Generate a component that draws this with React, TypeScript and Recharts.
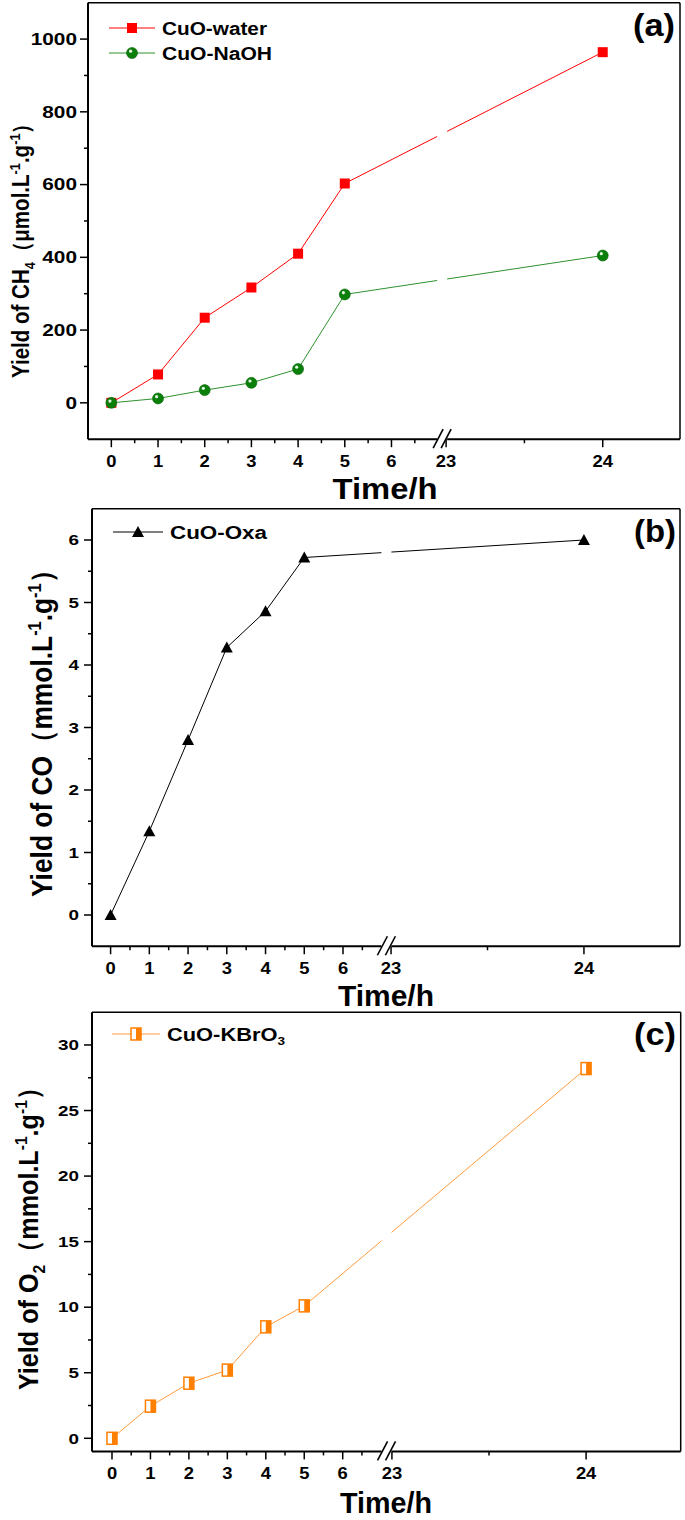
import React from 'react';
import { LineChart, Line, XAxis, YAxis, ReferenceLine } from 'recharts';

// ---------- data ----------
const hours = [0, 1, 2, 3, 4, 5, 24];
const cuoWater = [0, 78, 234, 317, 410, 603, 964];
const cuoNaOH = [0, 12, 35, 55, 93, 298, 405];
const cuoOxa = [0, 1.34, 2.8, 4.28, 4.86, 5.72, 6.0];
const cuoKBrO3 = [0, 2.45, 4.2, 5.2, 8.5, 10.1, 28.2];

const xMajorHours = [0, 1, 2, 3, 4, 5, 6, 23, 24];
const xMinorHours = [0.5, 1.5, 2.5, 3.5, 4.5, 5.5, 6.5, 23.5];

const yMajorA = [0, 200, 400, 600, 800, 1000];
const yMinorA = [100, 300, 500, 700, 900];
const yMajorB = [0, 1, 2, 3, 4, 5, 6];
const yMinorB = [0.5, 1.5, 2.5, 3.5, 4.5, 5.5];
const yMajorC = [0, 5, 10, 15, 20, 25, 30];
const yMinorC = [2.5, 7.5, 12.5, 17.5, 22.5, 27.5];

const FONT = '"Liberation Sans", Arial, Helvetica, sans-serif';

type Panel = {
  top: number; height: number;
  plotTop: number; plotBottom: number; plotLeft: number; plotRight: number;
  xLo: number; xHi: number; p23: number; k: number;
  yLo: number; yHi: number; yMajor: number[]; yMinor: number[];
  yFont: number; yGap: number;
};

const panelA: Panel = {
  top: 0, height: 510, plotTop: 2.7, plotBottom: 439.2, plotLeft: 88, plotRight: 680,
  xLo: -0.5, xHi: 12.18, p23: 7.17, k: 3.355,
  yLo: -100, yHi: 1100, yMajor: yMajorA, yMinor: yMinorA, yFont: 16, yGap: 11,
};
const panelB: Panel = {
  top: 480, height: 530, plotTop: 508.75, plotBottom: 946.25, plotLeft: 92, plotRight: 680,
  xLo: -0.48, xHi: 14.7, p23: 7.24, k: 4.98,
  yLo: -0.5, yHi: 6.5, yMajor: yMajorB, yMinor: yMinorB, yFont: 14.5, yGap: 13,
};
const panelC: Panel = {
  top: 1000, height: 520, plotTop: 1012.2, plotBottom: 1451.4, plotLeft: 92, plotRight: 680.7,
  xLo: -0.52, xHi: 14.79, p23: 7.28, k: 5.05,
  yLo: -1, yHi: 32.5, yMajor: yMajorC, yMinor: yMinorC, yFont: 14.5, yGap: 13,
};

const toPos = (t: number, p: Panel) => (t <= 7 ? t : p.p23 + (t - 23) * p.k);
const breakPos = (p: Panel) => (7 + p.p23) / 2;

// ---------- markers ----------
const SquareMark = ({ cx, cy }: any) => (
  <rect x={cx - 5} y={cy - 5} width={10} height={10} fill="#ff0000" />
);
const BallMark = ({ cx, cy }: any) => (
  <g>
    <circle cx={cx} cy={cy} r={5.5} fill="#0a7f0a" stroke="#086608" strokeWidth={0.6} />
    <circle cx={cx - 1.4} cy={cy - 1.8} r={1.6} fill="#e4f5e4" />
  </g>
);
const TriMark = ({ cx, cy }: any) => (
  <path d={`M${cx},${cy - 6} L${cx + 6},${cy + 5} L${cx - 6},${cy + 5} Z`} fill="#000" />
);
const HalfSquareMark = ({ cx, cy }: any) => (
  <g>
    <rect x={cx - 5} y={cy - 6} width={10} height={12} fill="#fff" stroke="#ff7f00" strokeWidth={1.5} />
    <rect x={cx} y={cy - 6} width={5} height={12} fill="#ff7f00" />
  </g>
);

const dotOf = (Mark: any) => (props: any) => {
  if (props.cx == null || props.cy == null) return <g key={`e${props.index}`} />;
  return <Mark key={`d${props.index}`} cx={props.cx} cy={props.cy} />;
};

// ---------- ticks ----------
const makeXTick = (p: Panel) => {
  const labels = new Map<string, string>();
  xMajorHours.forEach((h) => labels.set(toPos(h, p).toFixed(4), String(h)));
  const bp = breakPos(p).toFixed(4);
  const plotH = p.plotBottom - p.plotTop;
  return (props: any) => {
    const { x, y, payload } = props;
    const key = Number(payload.value).toFixed(4);
    if (key === bp) {
      return (
        <g key={`b${key}`}>
          <rect x={x - 5} y={y - plotH + 3} width={10} height={plotH - 1} fill="#fff" />
          <line x1={x - 9} y1={y + 9} x2={x + 1} y2={y - 10} stroke="#000" strokeWidth={1.6} />
          <line x1={x - 1} y1={y + 9} x2={x + 9} y2={y - 10} stroke="#000" strokeWidth={1.6} />
        </g>
      );
    }
    const label = labels.get(key);
    if (label == null) {
      return <line key={`m${key}`} x1={x} y1={y} x2={x} y2={y + 4} stroke="#000" strokeWidth={1.5} />;
    }
    return (
      <g key={`t${key}`}>
        <line x1={x} y1={y} x2={x} y2={y + 8} stroke="#000" strokeWidth={1.5} />
        <text
          transform={`translate(${x},${y + 28}) scale(1.15,1)`}
          textAnchor="middle"
          fontFamily={FONT}
          fontWeight="bold"
          fontSize={16}
          fill="#000"
        >
          {label}
        </text>
      </g>
    );
  };
};

const makeYTick = (p: Panel) => {
  const majors = new Set(p.yMajor.map((v) => v.toFixed(4)));
  return (props: any) => {
    const { x, y, payload } = props;
    const key = Number(payload.value).toFixed(4);
    if (!majors.has(key)) {
      return <line key={`m${key}`} x1={x - 4} y1={y} x2={x} y2={y} stroke="#000" strokeWidth={1.5} />;
    }
    return (
      <g key={`t${key}`}>
        <line x1={x - 8} y1={y} x2={x} y2={y} stroke="#000" strokeWidth={1.5} />
        <text
          transform={`translate(${x - p.yGap},${y + p.yFont * 0.36}) scale(1.3,1)`}
          textAnchor="end"
          fontFamily={FONT}
          fontWeight="bold"
          fontSize={p.yFont}
          fill="#000"
        >
          {payload.value}
        </text>
      </g>
    );
  };
};

// ---------- panel chart ----------
type SeriesDef = { key: string; values: number[]; color: string; mark: any };

const PanelChart = ({ p, series }: { p: Panel; series: SeriesDef[] }) => {
  const rows = hours.map((h, i) => {
    const r: any = { pos: toPos(h, p) };
    series.forEach((s) => (r[s.key] = s.values[i]));
    return r;
  });
  const xTicks = [
    ...xMajorHours.map((h) => toPos(h, p)),
    ...xMinorHours.map((h) => toPos(h, p)),
    breakPos(p),
  ].sort((a, b) => a - b);
  const yTicks = [...p.yMajor, ...p.yMinor].sort((a, b) => a - b);
  return (
    <div style={{ position: 'absolute', left: 0, top: p.top, width: 685, height: p.height }}>
      <LineChart
        width={685}
        height={p.height}
        data={rows}
        margin={{ top: p.plotTop - p.top, right: 685 - p.plotRight, bottom: 0, left: 0 }}
      >
        <YAxis
          type="number"
          domain={[p.yLo, p.yHi]}
          allowDataOverflow
          ticks={yTicks}
          interval={0}
          width={p.plotLeft}
          tickSize={0}
          tickMargin={0}
          tickLine={false}
          axisLine={{ stroke: '#000', strokeWidth: 2 }}
          tick={makeYTick(p)}
        />
        <ReferenceLine y={p.yHi} stroke="#000" strokeWidth={1.5} />
        <ReferenceLine x={p.xHi} stroke="#000" strokeWidth={1.5} />
        {series.map((s) => (
          <Line
            key={s.key}
            dataKey={s.key}
            type="linear"
            stroke={s.color}
            strokeWidth={1}
            dot={dotOf(s.mark)}
            activeDot={false}
            isAnimationActive={false}
          />
        ))}
        <XAxis
          dataKey="pos"
          type="number"
          domain={[p.xLo, p.xHi]}
          allowDataOverflow
          ticks={xTicks}
          interval={0}
          height={p.top + p.height - p.plotBottom}
          tickSize={0}
          tickMargin={0}
          tickLine={false}
          axisLine={{ stroke: '#000', strokeWidth: 2 }}
          tick={makeXTick(p)}
        />
      </LineChart>
    </div>
  );
};

// ---------- text helpers ----------
const B = { fontFamily: FONT, fontWeight: 'bold' as const, fill: '#000' };

// Segments: [text, kind] where kind is 'n' normal, 'sub' or 'sup'.
type Seg = [string, 'n' | 'sub' | 'sup'];

const RichText = ({ segs, size }: { segs: Seg[]; size: number }) => {
  const out: any[] = [];
  let shift = 0; // current baseline offset
  segs.forEach(([t, kind], i) => {
    const target = kind === 'sub' ? size * 0.25 : kind === 'sup' ? -size * 0.38 : 0;
    const dy = target - shift;
    shift = target;
    out.push(
      <tspan key={i} dy={dy} fontSize={kind === 'n' ? size : size * 0.62}>
        {t}
      </tspan>
    );
  });
  return <>{out}</>;
};

const YLabel = ({ x, y, len, size, segs }: any) => (
  <text
    transform={`translate(${x},${y}) rotate(-90)`}
    textLength={len}
    lengthAdjust="spacingAndGlyphs"
    fontSize={size}
    {...B}
  >
    <RichText segs={segs} size={size} />
  </text>
);

const LegendRow = ({ y, x0, x1, color, Mark, segs, len }: any) => (
  <g>
    <line x1={x0} y1={y} x2={x1} y2={y} stroke={color} strokeWidth={1} />
    <Mark cx={(x0 + x1) / 2} cy={y} />
    <text x={x1 + 7} y={y + 6.5} fontSize={18} textLength={len} lengthAdjust="spacingAndGlyphs" {...B}>
      <RichText segs={segs} size={18} />
    </text>
  </g>
);

const Title = ({ cx, y, len }: any) => (
  <text x={cx} y={y} textAnchor="middle" fontSize={29} textLength={len} lengthAdjust="spacingAndGlyphs" {...B}>
    Time/h
  </text>
);

const Tag = ({ x, y, t }: any) => (
  <text x={x} y={y} fontSize={31} textLength={42} lengthAdjust="spacingAndGlyphs" {...B}>
    {t}
  </text>
);

const labelCH4: Seg[] = [['Yield of CH', 'n'], ['4', 'sub'], ['\uFF08\u03BCmol.L', 'n'], ['-1', 'sup'], ['.g', 'n'], ['-1', 'sup'], ['\uFF09', 'n']];
const labelCO: Seg[] = [['Yield of CO\uFF08mmol.L', 'n'], ['-1', 'sup'], ['.g', 'n'], ['-1', 'sup'], ['\uFF09', 'n']];
const labelO2: Seg[] = [['Yield of O', 'n'], ['2', 'sub'], ['\uFF08mmol.L', 'n'], ['-1', 'sup'], ['.g', 'n'], ['-1', 'sup'], ['\uFF09', 'n']];

const ORANGE_LINE = '#ff9a3c';
const GREEN_LINE = '#2e912e';

export default function App() {
  return (
    <div style={{ position: 'absolute', left: 0, top: 0, width: 685, height: 1520, background: '#fff', overflow: 'hidden' }}>
      <PanelChart
        p={panelA}
        series={[
          { key: 'water', values: cuoWater, color: '#ff0000', mark: SquareMark },
          { key: 'naoh', values: cuoNaOH, color: GREEN_LINE, mark: BallMark },
        ]}
      />
      <PanelChart p={panelB} series={[{ key: 'oxa', values: cuoOxa, color: '#000', mark: TriMark }]} />
      <PanelChart p={panelC} series={[{ key: 'kbro3', values: cuoKBrO3, color: ORANGE_LINE, mark: HalfSquareMark }]} />

      <svg
        width={685}
        height={1520}
        style={{ position: 'absolute', left: 0, top: 0, pointerEvents: 'none' }}
      >
        {/* panel a */}
        <LegendRow y={28} x0={109} x1={155} color="#ff0000" Mark={SquareMark} segs={[['CuO-water', 'n']]} len={105} />
        <LegendRow y={53} x0={109} x1={155} color={GREEN_LINE} Mark={BallMark} segs={[['CuO-NaOH', 'n']]} len={110} />
        <Tag x={633} y={36} t="(a)" />
        <Title cx={385} y={499} len={105} />
        <YLabel x={29} y={378} len={265} size={23} segs={labelCH4} />

        {/* panel b */}
        <LegendRow y={532} x0={113} x1={163} color="#000" Mark={TriMark} segs={[['CuO-Oxa', 'n']]} len={97} />
        <Tag x={634} y={542} t="(b)" />
        <Title cx={386} y={1006} len={96} />
        <YLabel x={52} y={897} len={340} size={29} segs={labelCO} />

        {/* panel c */}
        <LegendRow y={1034} x0={112} x1={160} color={ORANGE_LINE} Mark={HalfSquareMark} segs={[['CuO-KBrO', 'n'], ['3', 'sub']]} len={118} />
        <Tag x={634} y={1045} t="(c)" />
        <Title cx={386} y={1513} len={92} />
        <YLabel x={38} y={1390} len={315} size={28} segs={labelO2} />
      </svg>
    </div>
  );
}
